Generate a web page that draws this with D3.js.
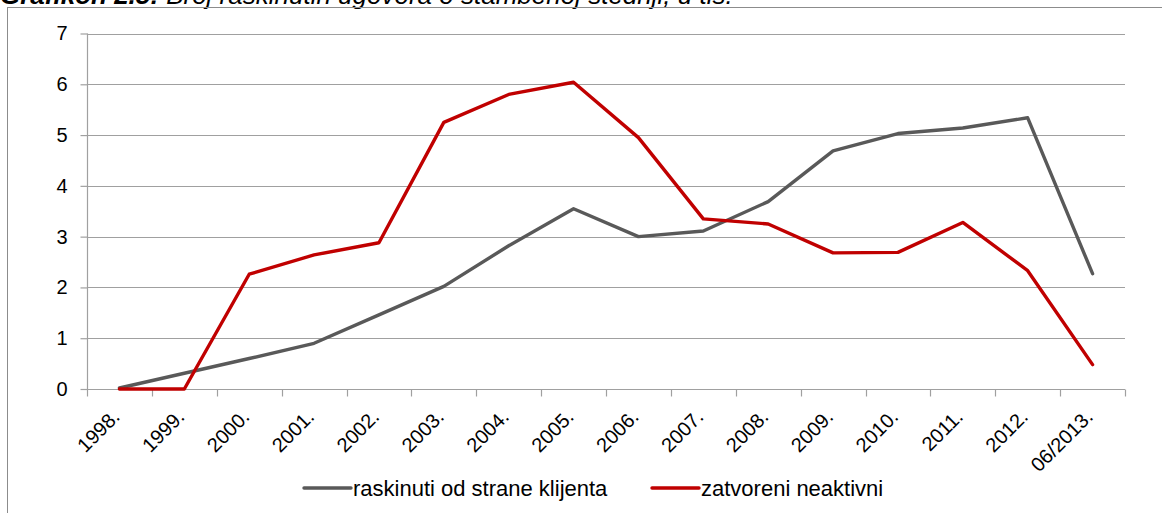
<!DOCTYPE html>
<html>
<head>
<meta charset="utf-8">
<script src="https://cdnjs.cloudflare.com/ajax/libs/d3/7.8.5/d3.min.js"></script>
<style>
  body { margin: 0; background: #fff; }
  svg { display: block; font-family: "Liberation Sans", Arial, sans-serif; }
</style>
</head>
<body>
<div id="chart"></div>
<script>
// Chart data
var categories = ["1998.", "1999.", "2000.", "2001.", "2002.", "2003.", "2004.", "2005.",
  "2006.", "2007.", "2008.", "2009.", "2010.", "2011.", "2012.", "06/2013."];
var raskinuti = [0.02, 0.31, 0.6, 0.9, 1.46, 2.02, 2.82, 3.55, 3.0, 3.11, 3.69, 4.69, 5.03, 5.14, 5.34, 2.27];
var zatvoreni = [0, 0, 2.26, 2.64, 2.88, 5.25, 5.8, 6.04, 4.95, 3.35, 3.25, 2.68, 2.69, 3.28, 2.33, 0.48];
var yTicks = [0, 1, 2, 3, 4, 5, 6, 7];
var seriesNames = ["raskinuti od strane klijenta", "zatvoreni neaktivni"];
var seriesColors = ["#595959", "#c00000"];

document.addEventListener("DOMContentLoaded", () => {
  var width = 1162;
  var height = 513;
  var margin = { left: 87, top: 33.5, right: 37, bottom: 124 };

  var svg = d3
    .select("#chart")
    .append("svg")
    .attr("width", width)
    .attr("height", height);

  // Title, cut off by the top of the picture like in the original
  var title = svg
    .append("text")
    .attr("x", 0)
    .attr("y", 4)
    .attr("font-size", 26)
    .attr("font-style", "italic")
    .attr("fill", "#000");
  title.append("tspan").attr("font-weight", "bold").text("Grafikon 2.5: ");
  title.append("tspan").text("Broj raskinutih ugovora o stambenoj štednji, u tis.");

  // Outer frame
  svg
    .append("rect")
    .attr("x", 7.5)
    .attr("y", 7.5)
    .attr("width", width)
    .attr("height", height)
    .attr("fill", "none")
    .attr("stroke", "#8c8c8c")
    .attr("stroke-width", 1);

  var x = d3
    .scaleBand()
    .domain(categories)
    .range([margin.left, width - margin.right]);

  var y = d3
    .scaleLinear()
    .domain([0, 7])
    .range([height - margin.bottom, margin.top]);

  // Horizontal gridlines
  svg
    .append("g")
    .selectAll("line")
    .data(yTicks.slice(1))
    .enter()
    .append("line")
    .attr("x1", margin.left)
    .attr("x2", width - margin.right)
    .attr("y1", d => Math.round(y(d)) + 0.5)
    .attr("y2", d => Math.round(y(d)) + 0.5)
    .attr("stroke", "#a0a0a0")
    .attr("stroke-width", 1.2);

  // Y axis
  var yAxis = svg
    .append("g")
    .attr("transform", "translate(" + (margin.left + 0.5) + ",0)")
    .call(d3.axisLeft(y).tickValues(yTicks).tickSize(7).tickPadding(13).tickFormat(d3.format("d")));
  yAxis.selectAll("line, path").attr("stroke", "#a0a0a0").attr("stroke-width", 1.2);
  yAxis.select("path").attr("d", "M0," + y(0) + "V" + y(7));
  yAxis.selectAll("text").attr("font-size", 20).attr("fill", "#000").attr("font-family", null);

  // X axis with ticks between categories
  var xAxis = svg
    .append("g")
    .attr("transform", "translate(0," + (Math.round(y(0)) + 0.5) + ")");
  xAxis
    .append("line")
    .attr("x1", margin.left)
    .attr("x2", width - margin.right)
    .attr("stroke", "#a0a0a0")
    .attr("stroke-width", 1.2);
  var bounds = categories.map(d => x(d)).concat([x(categories[categories.length - 1]) + x.bandwidth()]);
  xAxis
    .selectAll(".tk")
    .data(bounds)
    .enter()
    .append("line")
    .attr("x1", d => Math.round(d) + 0.5)
    .attr("x2", d => Math.round(d) + 0.5)
    .attr("y1", 0)
    .attr("y2", 7)
    .attr("stroke", "#a0a0a0")
    .attr("stroke-width", 1.2);

  // Rotated category labels
  svg
    .append("g")
    .selectAll("text")
    .data(categories)
    .enter()
    .append("text")
    .text(d => d)
    .attr("transform", d => "translate(" + (x(d) + x.bandwidth() / 2 + 1.5) + "," + 418 + ") rotate(-45)")
    .attr("text-anchor", "end")
    .attr("font-size", 20)
    .attr("fill", "#000");

  // Lines
  var line = d3
    .line()
    .x((d, i) => x(categories[i]) + x.bandwidth() / 2)
    .y(d => y(d));

  [raskinuti, zatvoreni].forEach((series, i) => {
    svg
      .append("path")
      .datum(series)
      .attr("d", line)
      .attr("fill", "none")
      .attr("stroke", seriesColors[i])
      .attr("stroke-width", 3.4)
      .attr("stroke-linejoin", "round")
      .attr("stroke-linecap", "round");
  });

  // Legend
  var legendX = [304, 652];
  var legend = svg
    .append("g")
    .selectAll("g")
    .data(seriesNames)
    .enter()
    .append("g")
    .attr("transform", (d, i) => "translate(" + legendX[i] + ",488)");
  legend
    .append("line")
    .attr("x1", 0)
    .attr("x2", 47)
    .attr("stroke", (d, i) => seriesColors[i])
    .attr("stroke-width", 3.4)
    .attr("stroke-linecap", "round");
  legend
    .append("text")
    .attr("x", 49)
    .attr("y", 7.5)
    .attr("font-size", 22)
    .attr("fill", "#000")
    .text(d => d);
});
</script>
</body>
</html>
